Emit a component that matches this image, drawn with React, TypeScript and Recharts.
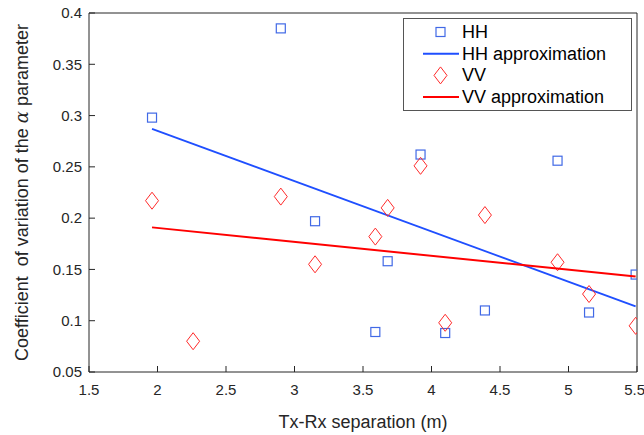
import React from 'react';
import {
  ComposedChart,
  Scatter,
  XAxis,
  YAxis,
  Legend,
} from 'recharts';

// Tx-Rx separation (m) for each measurement
const hhSeparation = [1.96, 2.9, 3.15, 3.59, 3.68, 3.92, 4.1, 4.39, 4.92, 5.15, 5.49];
const hhValues = [0.298, 0.385, 0.197, 0.089, 0.158, 0.262, 0.088, 0.11, 0.256, 0.108, 0.145];

const vvSeparation = [1.96, 2.26, 2.9, 3.15, 3.59, 3.68, 3.92, 4.1, 4.39, 4.92, 5.15, 5.49];
const vvValues = [0.217, 0.08, 0.221, 0.155, 0.182, 0.21, 0.251, 0.098, 0.203, 0.157, 0.126, 0.095];

// linear approximations (end points)
const fitSeparation = [1.96, 5.49];
const hhFitValues = [0.287, 0.114];
const vvFitValues = [0.191, 0.143];

const xTicks = [1.5, 2, 2.5, 3, 3.5, 4, 4.5, 5, 5.5];
const yTicks = [0.05, 0.1, 0.15, 0.2, 0.25, 0.3, 0.35, 0.4];

const HH_COLOR = '#4169e6';
const HH_LINE = '#1f4fff';
const VV_COLOR = '#ff2a2a';
const VV_LINE = '#ff0000';
const AXIS_COLOR = '#262626';
const FONT = '"Liberation Sans", Arial, Helvetica, sans-serif';

const toPoints = (xs: number[], ys: number[]) =>
  xs.map((x, i) => ({ x, y: ys[i] }));

const hhData = toPoints(hhSeparation, hhValues);
const vvData = toPoints(vvSeparation, vvValues);
const hhFit = toPoints(fitSeparation, hhFitValues);
const vvFit = toPoints(fitSeparation, vvFitValues);

const Square = ({ cx, cy }: { cx?: number; cy?: number }) => {
  if (cx === undefined || cy === undefined) return <g />;
  return (
    <rect
      x={cx - 4.5}
      y={cy - 4.5}
      width={9}
      height={9}
      fill="none"
      stroke={HH_COLOR}
      strokeWidth={1.2}
    />
  );
};

const Diamond = ({ cx, cy }: { cx?: number; cy?: number }) => {
  if (cx === undefined || cy === undefined) return <g />;
  return (
    <polygon
      points={`${cx},${cy - 8.5} ${cx + 6.5},${cy} ${cx},${cy + 8.5} ${cx - 6.5},${cy}`}
      fill="none"
      stroke={VV_COLOR}
      strokeWidth={1}
    />
  );
};

const NoDot = () => <g />;

const formatTick = (v: number) => String(Number(v.toFixed(2)));

const YLabel = (props: any) => {
  const vb = props.viewBox || { x: 0, y: 13, width: 89, height: 359 };
  const cy = vb.y + vb.height / 2;
  const x = 28;
  return (
    <text
      x={x}
      y={cy}
      textAnchor="middle"
      transform={`rotate(-90, ${x}, ${cy})`}
      fontSize={18}
      fontFamily={FONT}
      fill={AXIS_COLOR}
      style={{ whiteSpace: 'pre' }}
    >
      {'Coefficient  of variation of the '}
      <tspan fontStyle="italic" fontFamily='"DejaVu Serif", "Liberation Serif", serif'>
        α
      </tspan>
      {' parameter'}
    </text>
  );
};

const legendItems = [
  { name: 'HH', kind: 'square' },
  { name: 'HH approximation', kind: 'hhline' },
  { name: 'VV', kind: 'diamond' },
  { name: 'VV approximation', kind: 'vvline' },
];

const renderLegend = () => (
  <svg width={229} height={93} style={{ display: 'block' }}>
    <rect x={0.5} y={0.5} width={228} height={92} fill="#fff" stroke="#555" strokeWidth={1} />
    {legendItems.map((item, i) => {
      const cy = 14 + i * 21.7;
      let icon: React.ReactNode = null;
      if (item.kind === 'square') {
        icon = (
          <rect x={37.5 - 4.5} y={cy - 4.5} width={9} height={9} fill="none" stroke={HH_COLOR} strokeWidth={1.2} />
        );
      } else if (item.kind === 'diamond') {
        icon = (
          <polygon
            points={`37.5,${cy - 8.5} 44,${cy} 37.5,${cy + 8.5} 31,${cy}`}
            fill="none"
            stroke={VV_COLOR}
            strokeWidth={1}
          />
        );
      } else {
        icon = (
          <line
            x1={20}
            x2={56}
            y1={cy}
            y2={cy}
            stroke={item.kind === 'hhline' ? HH_LINE : VV_LINE}
            strokeWidth={2}
          />
        );
      }
      return (
        <g key={item.name}>
          {icon}
          <text
            x={59}
            y={cy}
            dominantBaseline="central"
            fontSize={18}
            fontFamily={FONT}
            fill="#000"
          >
            {item.name}
          </text>
        </g>
      );
    })}
  </svg>
);

export default function App() {
  return (
    <div style={{ position: 'absolute', left: 0, top: 0, background: '#fff' }}>
      <ComposedChart
        width={644}
        height={435}
        margin={{ top: 12, right: 6, bottom: 0, left: 0 }}
      >
        <XAxis
          xAxisId="bottom"
          dataKey="x"
          type="number"
          domain={[1.5, 5.5]}
          ticks={xTicks}
          allowDataOverflow
          height={63}
          tickSize={-6}
          tickMargin={18}
          tickFormatter={formatTick}
          stroke={AXIS_COLOR}
          tick={{ fill: AXIS_COLOR, fontSize: 15, fontFamily: FONT }}
          label={{
            value: 'Tx-Rx separation (m)',
            position: 'insideBottom',
            offset: 7,
            fontSize: 18,
            fontFamily: FONT,
            fill: AXIS_COLOR,
          }}
        />
        <XAxis
          xAxisId="top"
          orientation="top"
          type="number"
          domain={[1.5, 5.5]}
          ticks={xTicks}
          allowDataOverflow
          height={1}
          tickSize={-6}
          tick={false}
          stroke={AXIS_COLOR}
        />
        <YAxis
          yAxisId="left"
          dataKey="y"
          type="number"
          domain={[0.05, 0.4]}
          ticks={yTicks}
          allowDataOverflow
          width={89}
          tickSize={-6}
          tickMargin={13}
          tickFormatter={formatTick}
          stroke={AXIS_COLOR}
          tick={{ fill: AXIS_COLOR, fontSize: 15, fontFamily: FONT }}
          label={<YLabel />}
        />
        <YAxis
          yAxisId="right"
          orientation="right"
          type="number"
          domain={[0.05, 0.4]}
          ticks={yTicks}
          allowDataOverflow
          width={1}
          tickSize={-6}
          tick={false}
          stroke={AXIS_COLOR}
        />
        <Scatter
          name="HH"
          data={hhData}
          xAxisId="bottom"
          yAxisId="left"
          shape={Square}
          isAnimationActive={false}
        />
        <Scatter
          name="HH approximation"
          data={hhFit}
          xAxisId="bottom"
          yAxisId="left"
          line={{ stroke: HH_LINE, strokeWidth: 1.8 }}
          shape={NoDot}
          isAnimationActive={false}
        />
        <Scatter
          name="VV"
          data={vvData}
          xAxisId="bottom"
          yAxisId="left"
          shape={Diamond}
          isAnimationActive={false}
        />
        <Scatter
          name="VV approximation"
          data={vvFit}
          xAxisId="bottom"
          yAxisId="left"
          line={{ stroke: VV_LINE, strokeWidth: 2 }}
          shape={NoDot}
          isAnimationActive={false}
        />
        <Legend
          layout="horizontal"
          align="center"
          verticalAlign="middle"
          content={renderLegend}
          wrapperStyle={{ left: 403, top: 18, width: 229, height: 93 }}
        />
      </ComposedChart>
    </div>
  );
}
